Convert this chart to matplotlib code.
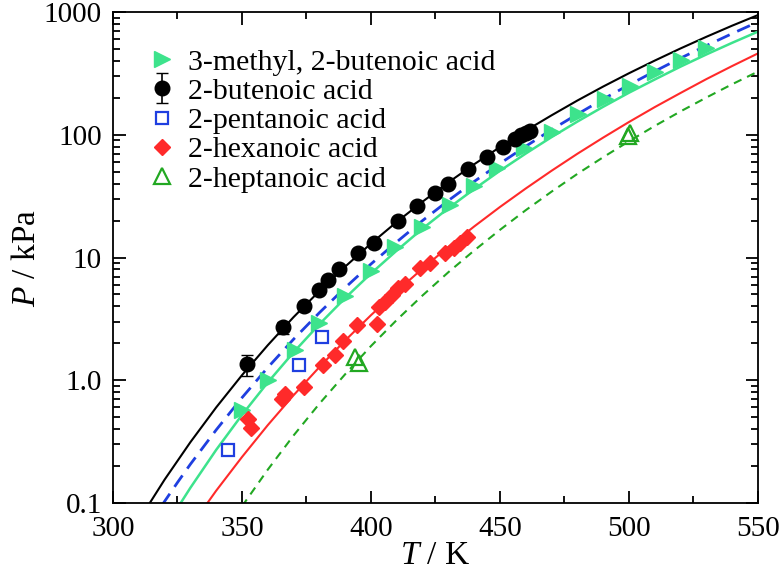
import matplotlib
matplotlib.use("Agg")
import matplotlib.pyplot as plt
from matplotlib.ticker import FixedLocator, FixedFormatter, MultipleLocator, LogLocator, NullFormatter

plt.rcParams['font.family'] = ['Liberation Serif', 'DejaVu Serif']
plt.rcParams['mathtext.fontset'] = 'custom'
plt.rcParams['mathtext.rm'] = 'Liberation Serif'
plt.rcParams['mathtext.it'] = 'Liberation Serif:italic'

# measured points (T in K, P in kPa)
methyl_T = [350, 360, 370.5, 380, 390, 400, 409.5, 419.6, 430.5, 440, 449, 459.5,
            470, 480.3, 490.7, 500.4, 510, 520, 530]
methyl_P = [0.57, 1.0, 1.76, 2.95, 4.9, 7.7, 12.2, 17.8, 26.8, 38.5, 53.5, 78,
            106, 147, 195, 250, 327, 410, 512]

butenoic_T = [352, 366, 374, 380, 383.5, 387.5, 395, 401, 410.5, 418, 425, 430,
              437.5, 445, 451, 456, 458, 460, 461.5]
butenoic_P = [1.35, 2.7, 4.0, 5.4, 6.6, 8.0, 10.8, 13.2, 19.8, 26.5, 33.4, 39.5,
              53, 66, 80, 93, 99, 104, 108]
butenoic_err = [0.27, 0.3, 0.35, 0, 0, 0, 0, 0, 0, 0, 0, 0,
                0, 0, 0, 0, 0, 0, 0]

pentanoic_T = [344.5, 372.2, 381]
pentanoic_P = [0.27, 1.33, 2.27]

hexanoic_T = [352.5, 353.5, 365.5, 366.5, 374, 381.5, 386, 389, 394.5, 402.5, 403,
              405.4, 408, 410.6, 413, 419, 423, 428.7, 432, 434.5, 437.2]
hexanoic_P = [0.48, 0.41, 0.70, 0.77, 0.88, 1.33, 1.61, 2.1, 2.82, 2.9, 3.97,
              4.37, 4.95, 5.6, 6.1, 8.2, 9.0, 10.8, 11.9, 13.1, 14.8]

heptanoic_T = [394, 395.5, 499.5, 500.5]
heptanoic_P = [1.56, 1.37, 98, 103]

# fitted curves
butenoic_fit_T = [314, 320, 330, 340, 350, 360, 370, 380, 390, 400, 410, 420, 430,
                  440, 450, 460, 470, 480, 490, 500, 510, 520, 530, 540, 550]
butenoic_fit_P = [0.098, 0.155, 0.313, 0.601, 1.10, 1.93, 3.27, 5.33, 8.43, 13.0, 19.5,
                  28.5, 40.9, 57.5, 79.4, 108, 144, 190, 247, 317, 402, 505, 628, 774, 944]

pentanoic_fit_T = [319, 325, 330, 340, 350, 360, 370, 380, 390, 400, 410, 420, 430,
                   440, 450, 460, 470, 480, 490, 500, 510, 520, 530, 540, 550]
pentanoic_fit_P = [0.096, 0.147, 0.207, 0.394, 0.721, 1.27, 2.16, 3.55, 5.68, 8.85, 13.4,
                   20.0, 29.1, 41.6, 58.3, 80.5, 110, 147, 195, 255, 329, 421, 532, 667, 830]

methyl_fit_T = [325, 330, 340, 350, 360, 370, 380, 390, 400, 410, 420, 430, 440,
                450, 460, 470, 480, 490, 500, 510, 520, 530, 540, 550]
methyl_fit_P = [0.091, 0.133, 0.271, 0.522, 0.96, 1.69, 2.86, 4.68, 7.41, 11.4, 17.2,
                25.2, 36.1, 50.9, 70.3, 95.7, 128, 169, 220, 282, 359, 451, 561, 692]

hexanoic_fit_T = [336, 340, 350, 360, 370, 380, 390, 400, 410, 420, 430, 440, 450,
                  460, 470, 480, 490, 500, 510, 520, 530, 540, 550]
hexanoic_fit_P = [0.096, 0.126, 0.237, 0.431, 0.755, 1.28, 2.11, 3.39, 5.31, 8.13, 12.2,
                  17.9, 25.8, 36.5, 50.9, 70.0, 94.8, 127, 168, 219, 284, 363, 460]

heptanoic_fit_T = [350, 360, 370, 380, 390, 400, 410, 420, 430, 440, 450, 460, 470,
                   480, 490, 500, 510, 520, 530, 540, 550]
heptanoic_fit_P = [0.094, 0.187, 0.355, 0.644, 1.12, 1.90, 3.10, 4.91, 7.59, 11.4, 16.8,
                   24.3, 34.4, 48.0, 65.6, 88.5, 118, 155, 201, 258, 327]

y_ticks = [0.1, 1, 10, 100, 1000]
y_labels = ['0.1', '1.0', '10', '100', '1000']

c_methyl = '#3de38c'
c_blue = '#1f3fe0'
c_red = '#ff2a2a'
c_hept = '#22a822'

fig = plt.figure(figsize=(7.83, 5.83), dpi=100)
ax = fig.add_axes([0.1443, 0.1372, 0.8237, 0.8422])

# curves
ax.plot(butenoic_fit_T, butenoic_fit_P, color='black', lw=1.5)
ax.plot(pentanoic_fit_T, pentanoic_fit_P, color=c_blue, lw=2, dashes=(5, 3))
ax.plot(methyl_fit_T, methyl_fit_P, color=c_methyl, lw=1.8)
ax.plot(hexanoic_fit_T, hexanoic_fit_P, color=c_red, lw=1.5)
ax.plot(heptanoic_fit_T, heptanoic_fit_P, color=c_hept, lw=1.5, dashes=(4, 3))

# points
h1, = ax.plot(methyl_T, methyl_P, '>', color=c_methyl, ms=11, ls='none',
              label='3-methyl, 2-butenoic acid', zorder=5)
h2 = ax.errorbar(butenoic_T, butenoic_P, yerr=butenoic_err, fmt='o', color='black',
                 ms=10.5, capsize=4, elinewidth=1.2, label='2-butenoic acid', zorder=5)
h3, = ax.plot(pentanoic_T, pentanoic_P, 's', mfc='none', mec=c_blue, mew=1.6, ms=9,
              ls='none', label='2-pentanoic acid', zorder=5)
h4, = ax.plot(hexanoic_T, hexanoic_P, 'D', color=c_red, ms=8.5, ls='none',
              label='2-hexanoic acid', zorder=5)
h5, = ax.plot(heptanoic_T, heptanoic_P, '^', mfc='none', mec=c_hept, mew=1.6, ms=11,
              ls='none', label='2-heptanoic acid', zorder=5)

ax.set_xlim(300, 550)
ax.set_yscale('log')
ax.set_ylim(0.1, 1000)

ax.xaxis.set_major_locator(MultipleLocator(50))
ax.xaxis.set_minor_locator(MultipleLocator(25))
ax.yaxis.set_major_locator(FixedLocator(y_ticks))
ax.yaxis.set_major_formatter(FixedFormatter(y_labels))
ax.yaxis.set_minor_locator(LogLocator(base=10, subs=range(2, 10)))
ax.yaxis.set_minor_formatter(NullFormatter())

ax.tick_params(which='both', direction='in', top=True, right=True, labelsize=21, width=1.3)
ax.tick_params(which='major', length=9)
ax.tick_params(which='minor', length=5)
ax.tick_params(axis='x', which='major', pad=9)
ax.tick_params(axis='y', which='major', pad=8)
for s in ax.spines.values():
    s.set_linewidth(1.3)

ax.set_xlabel(r'$T$ / K', fontsize=24, labelpad=-1)
ax.set_ylabel(r'$P$ / kPa', fontsize=24, labelpad=1)

ax.legend(handles=[h1, h2, h3, h4, h5], loc='upper left', bbox_to_anchor=(0.022, 0.968),
          frameon=False, fontsize=21.5, handlelength=0.9, handletextpad=0.45,
          labelspacing=0.08, borderaxespad=0.3)

fig.savefig('out.png', dpi=100)
